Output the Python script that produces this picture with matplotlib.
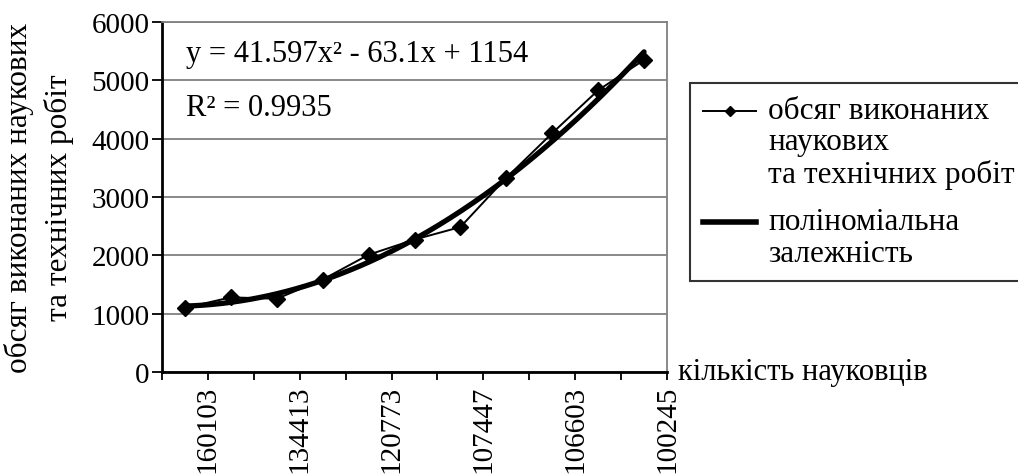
import numpy as np
import matplotlib
matplotlib.use("Agg")
import matplotlib.pyplot as plt
from matplotlib.lines import Line2D
from matplotlib.legend_handler import HandlerLine2D

plt.rcParams['font.family'] = ['Liberation Serif', 'DejaVu Serif']

# ---- data ----
categories = np.arange(1, 12)
work_volume = [1100, 1280, 1255, 1585, 2010, 2270, 2485, 3330, 4095, 4830, 5350]
tick_labels = ['160103', '134413', '120773', '107447', '106603', '100245']
equation_text = 'y = 41.597x² - 63.1x + 1154'
r2_text = 'R² = 0.9935'
ylabel_text = 'обсяг виконаних наукових\nта технічних робіт'
xlabel_text = 'кількість науковців'
series_label = 'обсяг виконаних\nнаукових\nта технічних робіт'
trend_label = 'поліноміальна\nзалежність'

W, H = 1018, 477
fig = plt.figure(figsize=(W / 100, H / 100), dpi=100)
ax = fig.add_axes([162 / W, (H - 373) / H, (667 - 162) / W, (373 - 23) / H])

# polynomial trend (2nd order) fitted to the data
coef = np.polyfit(categories, work_volume, 2)
xs = np.linspace(categories[0], categories[-1], 200)
trend, = ax.plot(xs, np.polyval(coef, xs), color='black', lw=3.8,
                 solid_capstyle='round', zorder=3)
series, = ax.plot(categories, work_volume, color='black', lw=1.4,
                  marker='D', markersize=8, zorder=4)

ax.set_xlim(0.5, 11.5)
ax.set_ylim(0, 6000)
ax.set_yticks(np.arange(0, 6001, 1000))
ax.yaxis.grid(True, color='#808080', lw=1.3)
ax.set_axisbelow(True)

label_pos = categories[::2] + 0.5
ax.set_xticks(label_pos)
ax.set_xticklabels(tick_labels, rotation=90)
ax.set_xticks(np.arange(0.5, 11.6, 1.0), minor=True)
ax.tick_params(axis='x', which='both', direction='out', length=6, width=1.3,
               labelsize=21, pad=3)
ax.tick_params(axis='y', direction='out', length=7, width=1.3, labelsize=21, pad=2)

for s in ('left', 'bottom'):
    ax.spines[s].set_color('black')
    ax.spines[s].set_linewidth(2.0)
for s in ('top', 'right'):
    ax.spines[s].set_color('#808080')
    ax.spines[s].set_linewidth(1.3)

ax.set_ylabel(ylabel_text, fontsize=22.5, linespacing=1.4)
ax.yaxis.set_label_coords(-0.175, 0.5)

ax.annotate(xlabel_text, xy=(1.0, 0.0), xycoords='axes fraction',
            xytext=(8, 0), textcoords='offset points', fontsize=22,
            ha='left', va='center', annotation_clip=False)
ax.text(0.048, 0.91, equation_text, transform=ax.transAxes, fontsize=22,
        ha='left', va='center')
ax.text(0.048, 0.756, r2_text, transform=ax.transAxes, fontsize=22,
        ha='left', va='center')


class TopHandler(HandlerLine2D):
    def __init__(self, shift, **kw):
        super().__init__(**kw)
        self.shift = shift

    def create_artists(self, legend, orig_handle, xdescent, ydescent, width,
                       height, fontsize, trans):
        arts = super().create_artists(legend, orig_handle, xdescent, ydescent,
                                      width, height, fontsize, trans)
        for a in arts:
            if isinstance(a, Line2D):
                a.set_ydata(np.asarray(a.get_ydata()) + self.shift * fontsize)
        return arts


LS = 1.1
h1 = Line2D([], [], color='black', lw=1.4, marker='D', markersize=5)
h2 = Line2D([], [], color='black', lw=4.0)
leg = fig.legend([h1, h2], [series_label, trend_label],
                 loc='upper left', bbox_to_anchor=(690 / W, 1 - 84 / H),
                 bbox_transform=fig.transFigure, fontsize=22.5, frameon=True,
                 fancybox=False, borderpad=0.42, borderaxespad=0,
                 handlelength=1.7, handletextpad=0.38, labelspacing=0.6,
                 handler_map={h1: TopHandler(LS * 0.92),
                              h2: TopHandler(LS * 0.46)})
leg.get_frame().set_edgecolor('black')
leg.get_frame().set_linewidth(1.5)
for t in leg.get_texts():
    t.set_linespacing(LS)

fig.savefig('out.png', dpi=100)
